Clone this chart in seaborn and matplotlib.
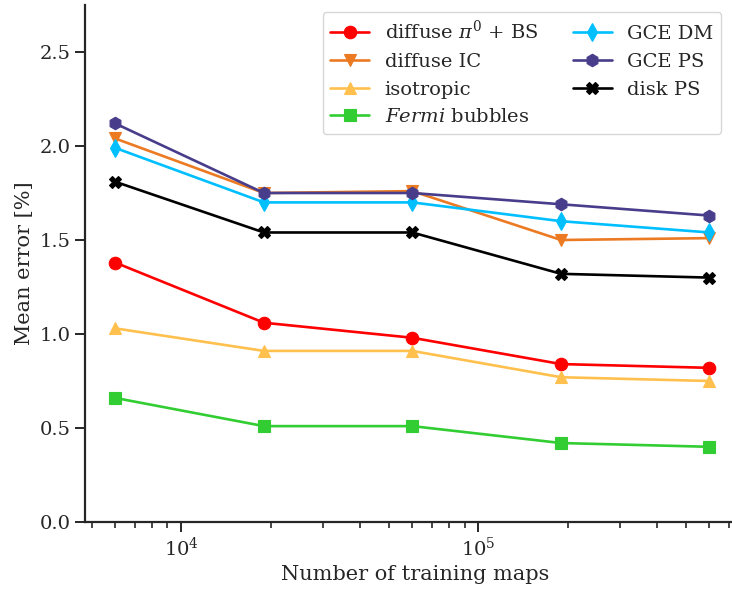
import numpy as np
import pandas as pd
import matplotlib
matplotlib.use("Agg")
import matplotlib.pyplot as plt
import seaborn as sns

n_maps = [6000, 19000, 60000, 190000, 600000]
labels = [r"diffuse $\pi^0$ + BS", "diffuse IC", "isotropic", r"$\it{Fermi}$ bubbles",
          "GCE DM", "GCE PS", "disk PS"]
diffuse_pi0 = [1.38, 1.06, 0.98, 0.84, 0.82]
diffuse_ic = [2.04, 1.75, 1.76, 1.50, 1.51]
isotropic = [1.03, 0.91, 0.91, 0.77, 0.75]
fermi_bubbles = [0.66, 0.51, 0.51, 0.42, 0.40]
gce_dm = [1.99, 1.70, 1.70, 1.60, 1.54]
gce_ps = [2.12, 1.75, 1.75, 1.69, 1.63]
disk_ps = [1.81, 1.54, 1.54, 1.32, 1.30]
series = [diffuse_pi0, diffuse_ic, isotropic, fermi_bubbles, gce_dm, gce_ps, disk_ps]

colors = ["#ff0000", "#ec7a23", "#ffc04d", "#32cd32", "#00bfff", "#483d8b", "#000000"]
markers = ["o", "v", "^", "s", "d", "h", "X"]

rows = []
for lab, vals in zip(labels, series):
    for n, v in zip(n_maps, vals):
        rows.append({"n": n, "err": v, "template": lab})
df = pd.DataFrame(rows)

sns.set_theme(style="ticks")
plt.rcParams["font.family"] = ["DejaVu Serif"]
plt.rcParams["mathtext.fontset"] = "dejavuserif"

fig = plt.figure(figsize=(7.32, 5.89), dpi=100)
ax = fig.add_axes([85/732, 1 - 522/589, 660/732, 517/589])

sns.lineplot(data=df, x="n", y="err", hue="template", style="template",
             hue_order=labels, style_order=labels,
             palette=dict(zip(labels, colors)), markers=dict(zip(labels, markers)),
             dashes=False, markersize=9, linewidth=1.9, markeredgewidth=0.8,
             ax=ax)
for line in ax.lines:
    line.set_markeredgecolor(line.get_color())
ax.set_xscale("log")
ax.set_xlim(4750, 7.9e5)
ax.set_ylim(0, 2.75)
ax.set_yticks([0, 0.5, 1.0, 1.5, 2.0, 2.5])
ax.set_xlabel("Number of training maps", fontsize=15)
ax.set_ylabel("Mean error [%]", fontsize=15)
ax.tick_params(labelsize=14, width=1.4, color="#262626")
ax.tick_params(which="major", length=7)
ax.tick_params(which="minor", length=4, width=1.2)
for sp in ax.spines.values():
    sp.set_linewidth(1.6)
    sp.set_color("#262626")
sns.despine(ax=ax)
leg = ax.legend(ncol=2, loc="upper right", fontsize=14, frameon=True,
                bbox_to_anchor=(0.979, 1.005), columnspacing=1.8, handlelength=2.0)
for h in leg.legend_handles:
    h.set_markeredgecolor(h.get_color())
fig.savefig("out.png", dpi=100)
